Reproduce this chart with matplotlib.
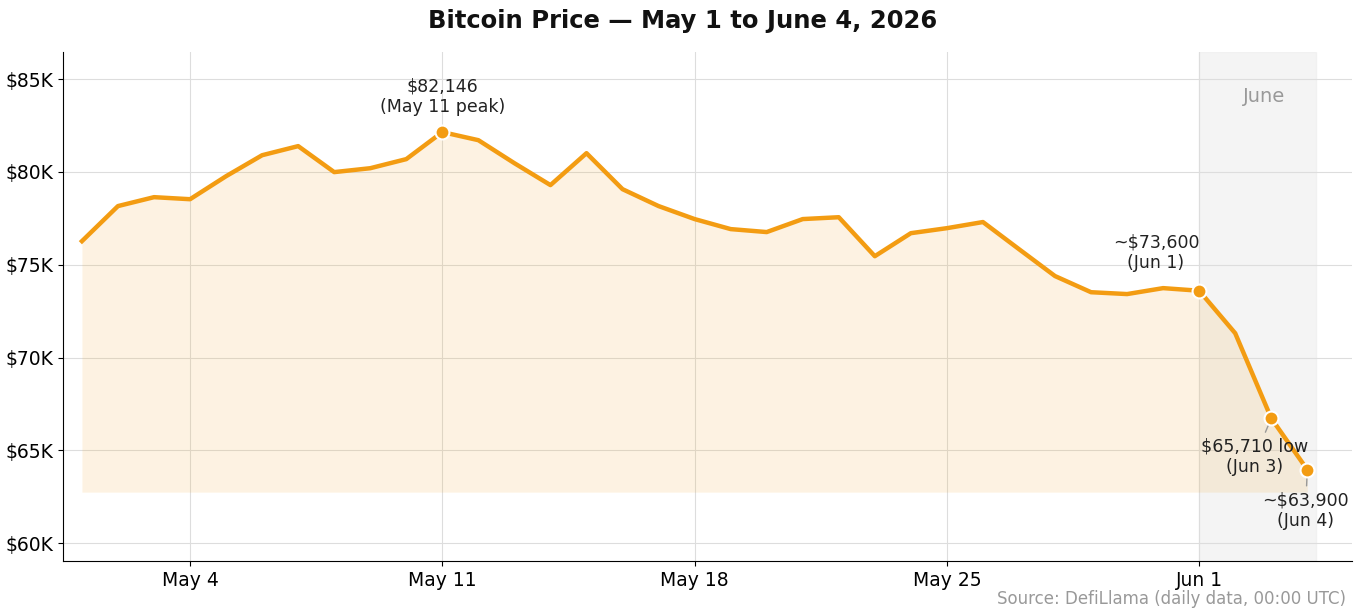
import numpy as np
import matplotlib.pyplot as plt

# daily close, May 1 .. Jun 4 (thousand USD)
prices = [76.27, 78.16, 78.64, 78.53, 79.77, 80.90, 81.39, 79.99, 80.20, 80.69,
          82.146, 81.71, 80.47, 79.29, 81.01, 79.07, 78.16, 77.46, 76.92, 76.76,
          77.46, 77.56, 75.46, 76.70, 76.97, 77.30, 75.84, 74.39, 73.52, 73.42,
          73.74, 73.60, 71.31, 66.73, 63.96]
tick_days = [3, 10, 17, 24, 31]
tick_labels = ['May 4', 'May 11', 'May 18', 'May 25', 'Jun 1']
y_ticks = [60, 65, 70, 75, 80, 85]

days = np.arange(len(prices))
orange = '#f39c12'

fig = plt.figure(figsize=(13.66, 6.14), dpi=100)
ax = fig.add_axes([0.046, 0.086, 0.944, 0.829])

ax.axvspan(31, 34.25, color='#ebebeb', alpha=0.55, zorder=0)
ax.text(33.4, 84.6, 'June', color='#999999', fontsize=14, ha='right', va='top')

ax.fill_between(days, prices, 62.75, color=orange, alpha=0.12, linewidth=0)
ax.plot(days, prices, color=orange, linewidth=3.2, zorder=3)

for i in [10, 31, 33, 34]:
    ax.plot(days[i], prices[i], 'o', color=orange, markersize=10,
            markeredgecolor='white', markeredgewidth=1.5, zorder=4)

ax.text(10, 83.0, '$82,146\n(May 11 peak)', ha='center', va='bottom', fontsize=12.5, color='#222222')
ax.text(29.8, 74.6, '~$73,600\n(Jun 1)', ha='center', va='bottom', fontsize=12.5, color='#222222')
ax.annotate('$65,710 low\n(Jun 3)', xy=(33, prices[33]), xytext=(32.55, 63.6),
            ha='center', va='bottom', fontsize=12.5, color='#222222',
            arrowprops=dict(arrowstyle='-', color='#999999', lw=1))
ax.annotate('~$63,900\n(Jun 4)', xy=(34, prices[34]), xytext=(33.95, 60.7),
            ha='center', va='bottom', fontsize=12.5, color='#222222',
            arrowprops=dict(arrowstyle='-', color='#999999', lw=1))

ax.set_xlim(-0.53, 35.25)
ax.set_ylim(59.03, 86.45)
ax.set_xticks(tick_days)
ax.set_xticklabels(tick_labels, fontsize=13.5)
ax.set_yticks(y_ticks)
ax.set_yticklabels(['$%dK' % v for v in y_ticks], fontsize=13.5)
ax.grid(True, color='#dddddd', linewidth=0.8)
ax.set_axisbelow(True)
for s in ['top', 'right']:
    ax.spines[s].set_visible(False)

fig.suptitle('Bitcoin Price — May 1 to June 4, 2026', fontsize=17.5, fontweight='bold',
             y=0.985, color='#111111')
fig.text(0.985, 0.01, 'Source: DefiLlama (daily data, 00:00 UTC)', ha='right', va='bottom',
         fontsize=12, color='#999999')

plt.savefig('out.png', dpi=100)
